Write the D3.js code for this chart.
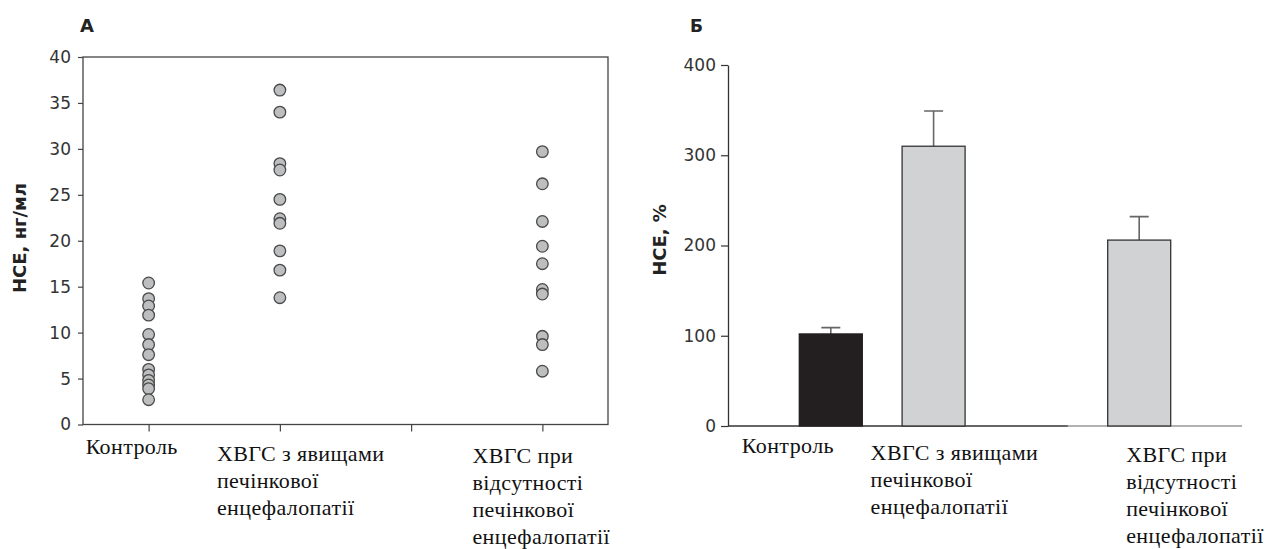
<!DOCTYPE html>
<html>
<head>
<meta charset="utf-8">
<script src="https://cdn.jsdelivr.net/npm/d3@7"></script>
<style>
  body { margin: 0; background: #fff; }
  svg { display: block; }
  .tick text { font-family: "DejaVu Sans", sans-serif; font-size: 17px; fill: #333; }
  .title { font-family: "DejaVu Sans", sans-serif; font-weight: bold; fill: #222; }
  .cat { font-family: "Liberation Serif", "Times New Roman", serif; font-size: 22px; letter-spacing: 0.4px; fill: #111; }
</style>
</head>
<body>
<svg id="chart" width="1265" height="549"></svg>
<script>
// Groups (third slot is an empty position on both x axes)
const groups = ["control", "he", "gap", "nohe"];
const groupLabels = {
  control: ["Контроль"],
  he: ["ХВГС з явищами", "печінкової", "енцефалопатії"],
  gap: [],
  nohe: ["ХВГС при", "відсутності", "печінкової", "енцефалопатії"]
};

// Panel A: individual values, нг/мл
const controlValues = [15.4, 13.7, 12.9, 11.9, 9.8, 8.7, 7.6, 6.0, 5.4, 4.8, 4.3, 3.9, 2.7];
const heValues = [36.4, 34.0, 28.4, 27.7, 24.5, 22.4, 21.9, 18.9, 16.8, 13.8];
const noHeValues = [29.7, 26.2, 22.1, 19.4, 17.5, 14.7, 14.2, 9.6, 8.7, 5.8];
const ticksA = [0, 5, 10, 15, 20, 25, 30, 35, 40];

// Panel B: mean % with upper error
const barGroups = ["control", "he", "nohe"];
const barMeans = [102, 310, 206];
const barErrors = [7, 39, 26];
const ticksB = [0, 100, 200, 300, 400];

// label left offsets from the group position (layout only)
const labelDxA = { control: -63, he: -63, nohe: -70 };
const labelDxB = { control: -89, he: -63, nohe: -13 };
const lineStep = 27;

const svg = d3.select("#chart");

function drawLabels(g, x, dx) {
  groups.forEach(k => {
    const lines = groupLabels[k];
    if (!lines.length) return;
    const t = g.append("text").attr("class", "cat")
      .attr("x", x(k) + dx[k][0])
      .attr("y", dx[k][1]);
    lines.forEach((l, i) => {
      t.append("tspan").attr("x", x(k) + dx[k][0]).attr("dy", i === 0 ? 0 : lineStep).text(l);
    });
  });
}

// ---------- Panel A ----------
const xA = d3.scalePoint().domain(groups).range([83, 608]).padding(0.5);
const yA = d3.scaleLinear().domain([0, 40]).range([424.5, 57]);

const gA = svg.append("g");

gA.append("rect")
  .attr("x", xA.range()[0]).attr("y", yA(40))
  .attr("width", xA.range()[1] - xA.range()[0])
  .attr("height", yA(0) - yA(40))
  .attr("fill", "none").attr("stroke", "#444").attr("stroke-width", 1.3);

const axA = gA.append("g")
  .attr("transform", `translate(${xA.range()[0]},0)`)
  .call(d3.axisLeft(yA).tickValues(ticksA).tickSize(5).tickPadding(7));
axA.select(".domain").remove();
axA.selectAll(".tick line").attr("stroke", "#444").attr("stroke-width", 1.2);

const axAx = gA.append("g")
  .attr("transform", `translate(0,${yA(0)})`)
  .call(d3.axisBottom(xA).tickSize(7).tickFormat(""));
axAx.select(".domain").remove();
axAx.selectAll(".tick line").attr("stroke", "#444").attr("stroke-width", 1.2);

const points = [];
controlValues.forEach(v => points.push({ g: "control", v }));
heValues.forEach(v => points.push({ g: "he", v }));
noHeValues.forEach(v => points.push({ g: "nohe", v }));

gA.selectAll(".dot")
  .data(points)
  .enter()
  .append("circle")
  .attr("class", "dot")
  .attr("cx", d => xA(d.g))
  .attr("cy", d => yA(d.v))
  .attr("r", 5.8)
  .attr("fill", "#bdbec0")
  .attr("stroke", "#4a4a4a")
  .attr("stroke-width", 1.3);

gA.append("text").attr("class", "title")
  .attr("transform", "translate(26,238) rotate(-90)")
  .attr("text-anchor", "middle")
  .style("font-size", "18px")
  .text("НСЕ, нг/мл");

gA.append("text").attr("class", "title")
  .attr("x", 80).attr("y", 31.5)
  .style("font-size", "18px")
  .text("А");

drawLabels(gA, xA, {
  control: [labelDxA.control, 454],
  he: [labelDxA.he, 461],
  nohe: [labelDxA.nohe, 463]
});

// ---------- Panel B ----------
const xB = d3.scalePoint().domain(groups).range([728, 1242]).padding(1);
const yB = d3.scaleLinear().domain([0, 400]).range([426, 65]);
const barW = 63;

const gB = svg.append("g");

const axB = gB.append("g")
  .attr("transform", `translate(${xB.range()[0]},0)`)
  .call(d3.axisLeft(yB).tickValues(ticksB).tickSize(7).tickPadding(5).tickSizeOuter(0));
axB.select(".domain").attr("stroke", "#333").attr("stroke-width", 1.3);
axB.selectAll(".tick line").attr("stroke", "#333").attr("stroke-width", 1.2);

// baseline: dark up to the empty slot, lighter after it
const splitX = xB("gap") + barW / 2;
gB.append("line")
  .attr("x1", xB.range()[0]).attr("x2", splitX)
  .attr("y1", yB(0)).attr("y2", yB(0))
  .attr("stroke", "#333").attr("stroke-width", 1.5);
gB.append("line")
  .attr("x1", splitX).attr("x2", xB.range()[1])
  .attr("y1", yB(0)).attr("y2", yB(0))
  .attr("stroke", "#999").attr("stroke-width", 1.5);

const bars = barGroups.map((g, i) => ({ g, mean: barMeans[i], err: barErrors[i] }));

// error bars (upper only)
gB.selectAll(".err")
  .data(bars)
  .enter()
  .append("path")
  .attr("class", "err")
  .attr("d", d => {
    const cx = xB(d.g);
    return `M${cx},${yB(d.mean)}V${yB(d.mean + d.err)}M${cx - 9.5},${yB(d.mean + d.err)}H${cx + 9.5}`;
  })
  .attr("fill", "none")
  .attr("stroke", "#666")
  .attr("stroke-width", 1.6);

gB.selectAll(".bar")
  .data(bars)
  .enter()
  .append("rect")
  .attr("class", "bar")
  .attr("x", d => xB(d.g) - barW / 2)
  .attr("y", d => yB(d.mean))
  .attr("width", barW)
  .attr("height", d => yB(0) - yB(d.mean))
  .attr("fill", d => d.g === "control" ? "#231f20" : "#d1d2d4")
  .attr("stroke", d => d.g === "control" ? "#231f20" : "#333")
  .attr("stroke-width", 1.3);

gB.append("text").attr("class", "title")
  .attr("transform", "translate(666,240) rotate(-90)")
  .attr("text-anchor", "middle")
  .style("font-size", "18px")
  .text("НСЕ, %");

gB.append("text").attr("class", "title")
  .attr("x", 690).attr("y", 31.5)
  .style("font-size", "17px")
  .text("Б");

drawLabels(gB, xB, {
  control: [labelDxB.control, 453],
  he: [labelDxB.he, 460],
  nohe: [labelDxB.nohe, 462]
});
</script>
</body>
</html>
